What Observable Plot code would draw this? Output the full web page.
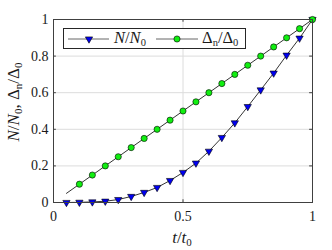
<!DOCTYPE html>
<html>
<head>
<meta charset="utf-8">
<script src="https://cdn.jsdelivr.net/npm/d3@7"></script>
<script src="https://cdn.jsdelivr.net/npm/@observablehq/plot@0.6"></script>
<style>
  html, body { margin: 0; padding: 0; background: #fff; }
  #wrap { position: relative; width: 332px; height: 250px; font-family: "Liberation Serif", serif; color: #1a1a1a; }
  #wrap svg { display: block; }
  #wrap svg text { font-family: "Liberation Serif", serif; }
  .lab { position: absolute; white-space: nowrap; font-size: 17px; line-height: 1; }
  .lab sub { font-size: 11px; vertical-align: -3px; line-height: 0; }
  #ylab { left: 13px; top: 102px; transform: translate(-50%, -50%) rotate(-90deg); }
  #xlab { left: 182px; top: 237px; transform: translate(-50%, -50%); }
  #legend { position: absolute; left: 63px; top: 28px; width: 183px; height: 21px; border: 1px solid #262626; box-sizing: border-box; background: #fff; }
  #legend svg { position: absolute; left: 0; top: 0; }
  .ltxt { position: absolute; top: 1px; font-size: 16.5px; line-height: 1; white-space: nowrap; }
  .ltxt sub { font-size: 10.5px; vertical-align: -3px; line-height: 0; }
</style>
</head>
<body>
<div id="wrap"></div>
<script>
// data
const tN = [0.05, 0.10, 0.15, 0.20, 0.25, 0.30, 0.35, 0.40, 0.45, 0.50, 0.55, 0.60, 0.65, 0.70, 0.75, 0.80, 0.85, 0.90, 0.95, 1.00];
const nRatio = [0.000, 0.001, 0.003, 0.007, 0.016, 0.033, 0.055, 0.082, 0.120, 0.164, 0.215, 0.280, 0.355, 0.435, 0.524, 0.615, 0.707, 0.805, 0.898, 1.000];
const tD = [0.05, 0.10, 0.15, 0.20, 0.25, 0.30, 0.35, 0.40, 0.45, 0.50, 0.55, 0.60, 0.65, 0.70, 0.75, 0.80, 0.85, 0.90, 0.95, 1.00];
const dRatio = [0.05, 0.10, 0.15, 0.20, 0.25, 0.30, 0.35, 0.40, 0.45, 0.50, 0.55, 0.60, 0.65, 0.70, 0.75, 0.80, 0.85, 0.90, 0.95, 1.00];
const dMarkerFrom = 1; // first Δ point has no marker
const xTicks = [0, 0.5, 1];
const yTicks = [0, 0.2, 0.4, 0.6, 0.8, 1];

const nData = tN.map((t, i) => ({t, v: nRatio[i]}));
const dData = tD.map((t, i) => ({t, v: dRatio[i]}));
const dMarks = dData.slice(dMarkerFrom);

const axisColor = "#404040";
const serif = "'Liberation Serif', serif";
const plot = Plot.plot({
  width: 332,
  height: 250,
  marginLeft: 53,
  marginRight: 20,
  marginTop: 19,
  marginBottom: 48,
  style: {fontFamily: serif, fontSize: "14px", color: "#1a1a1a", background: "white"},
  x: {domain: [0, 1], label: null},
  y: {domain: [0, 1], label: null},
  marks: [
    Plot.gridX([0.5], {stroke: "#dcdcdc", strokeOpacity: 1}),
    Plot.gridY(yTicks.slice(1, -1), {stroke: "#dcdcdc", strokeOpacity: 1}),
    Plot.ruleY(yTicks, {y: d => d, x1: 0, x2: 0.011, stroke: axisColor}),
    Plot.ruleY(yTicks, {y: d => d, x1: 0.989, x2: 1, stroke: axisColor}),
    Plot.ruleX(xTicks, {x: d => d, y1: 0, y2: 0.015, stroke: axisColor}),
    Plot.ruleX(xTicks, {x: d => d, y1: 0.985, y2: 1, stroke: axisColor}),
    Plot.line(dData, {x: "t", y: "v", stroke: "black", strokeWidth: 0.8}),
    Plot.line(nData, {x: "t", y: "v", stroke: "black", strokeWidth: 0.8}),
    Plot.dot(nData, {x: "t", y: "v", symbol: "triangle", rotate: 180, r: 2.7, fill: "#0000f0", stroke: "#000", strokeWidth: 0.6}),
    Plot.dot(dMarks, {x: "t", y: "v", symbol: "circle", r: 3.1, fill: "#11ee11", stroke: "#000", strokeWidth: 0.6}),
    Plot.frame({stroke: axisColor, strokeWidth: 1}),
    Plot.axisX(xTicks, {tickSize: 0, tickPadding: 9, tickFormat: d => String(d), label: null, fontFamily: serif, fontSize: 14, fill: "#1a1a1a"}),
    Plot.axisY(yTicks, {tickSize: 0, tickPadding: 5, tickFormat: d => String(d), label: null, fontFamily: serif, fontSize: 14, fill: "#1a1a1a"})
  ]
});

const wrap = document.getElementById("wrap");
wrap.appendChild(plot);

// axis labels
const ylab = document.createElement("div");
ylab.className = "lab"; ylab.id = "ylab";
ylab.innerHTML = "<i>N</i>/<i>N</i><sub>0</sub>, &Delta;<sub>n</sub>/&Delta;<sub>0</sub>";
wrap.appendChild(ylab);
const xlab = document.createElement("div");
xlab.className = "lab"; xlab.id = "xlab";
xlab.innerHTML = "<i>t</i>/<i>t</i><sub>0</sub>";
wrap.appendChild(xlab);

// legend
const leg = document.createElement("div");
leg.id = "legend";
const ns = "http://www.w3.org/2000/svg";
const lsvg = document.createElementNS(ns, "svg");
lsvg.setAttribute("width", 183); lsvg.setAttribute("height", 21);
const ly = 10;
function addLine(x1, x2) {
  const l = document.createElementNS(ns, "line");
  l.setAttribute("x1", x1); l.setAttribute("x2", x2); l.setAttribute("y1", ly); l.setAttribute("y2", ly);
  l.setAttribute("stroke", "#666"); l.setAttribute("stroke-width", 1);
  lsvg.appendChild(l);
}
addLine(4, 45);
addLine(92, 134);
const tri = document.createElementNS(ns, "path");
const sym = d3.symbol(d3.symbolTriangle, Math.PI * 2.7 * 2.7)();
tri.setAttribute("d", sym);
tri.setAttribute("transform", `translate(25,${ly}) rotate(180)`);
tri.setAttribute("fill", "#0000f0"); tri.setAttribute("stroke", "#000"); tri.setAttribute("stroke-width", 0.6);
lsvg.appendChild(tri);
const circ = document.createElementNS(ns, "circle");
circ.setAttribute("cx", 113); circ.setAttribute("cy", ly); circ.setAttribute("r", 3.1);
circ.setAttribute("fill", "#11ee11"); circ.setAttribute("stroke", "#000"); circ.setAttribute("stroke-width", 0.6);
lsvg.appendChild(circ);
leg.appendChild(lsvg);
const t1 = document.createElement("div");
t1.className = "ltxt"; t1.style.left = "50px";
t1.innerHTML = "<i>N</i>/<i>N</i><sub>0</sub>";
leg.appendChild(t1);
const t2 = document.createElement("div");
t2.className = "ltxt"; t2.style.left = "138px";
t2.innerHTML = "&Delta;<sub>n</sub>/&Delta;<sub>0</sub>";
leg.appendChild(t2);
wrap.appendChild(leg);
</script>
</body>
</html>
